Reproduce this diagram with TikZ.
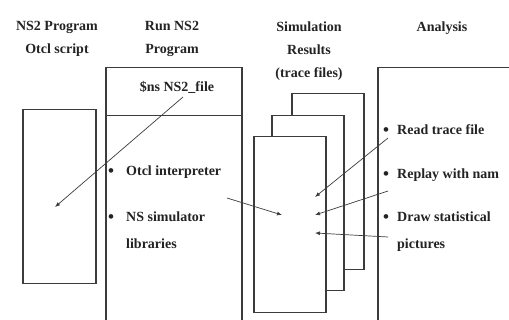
\documentclass[tikz,border=0pt]{standalone}
\usepackage{fontspec}
\setmainfont{Liberation Serif}
\usetikzlibrary{arrows.meta, positioning}
\definecolor{inkline}{RGB}{60,60,60}
\definecolor{inktext}{RGB}{35,35,35}
\newcommand{\bulletmark}[1]{\makebox[#1][l]{\raisebox{-0.8pt}{\fontsize{17}{17}\selectfont\textbullet}}}

\begin{document}
\begin{tikzpicture}[
    x=1pt, y=-1pt,
    >={Latex[length=5pt, width=4pt]},
    box/.style={draw=inkline, line width=1.5pt, fill=white, anchor=north west, inner sep=0pt},
    head/.style={font=\fontsize{14}{23}\selectfont\bfseries, text=inktext, align=center, inner sep=0pt},
    entry/.style={font=\fontsize{14}{26.5}\selectfont\bfseries, text=inktext, align=left, anchor=west, inner sep=0pt},
    flow/.style={->, line width=0.7pt, inkline},
  ]
  \useasboundingbox (0,0) rectangle (509,320);
  \clip (0,0) rectangle (509,320);

  % Boxes
  \node[box, minimum width=73pt, minimum height=174pt] (script) at (22,109) {};
  \node[box, minimum width=136pt, minimum height=48pt] (runtop) at (105,67) {};
  \node[box, minimum width=136pt, minimum height=230pt] (runlow) at (105,115) {};
  \node[box, minimum width=72pt, minimum height=176pt] (traceback) at (291,93) {};
  \node[box, minimum width=72pt, minimum height=175pt] (tracemid) at (271,115) {};
  \node[box, minimum width=72pt, minimum height=176pt] (tracefront) at (253,136) {};
  \node[box, minimum width=170pt, minimum height=280pt] (analysis) at (377,67) {};

  % Titles
  \node[head] (progtitle) at (57,38.5) {NS2 Program\\Otcl script};
  \node[head] (runtitle) at (172,38.5) {Run NS2\\Program};
  \node[head] (simtitle) at (309,51) {Simulation\\Results\\(trace files)};
  \node[head] (antitle) at (442,28) {Analysis};
  \node[head] (nsfile) at (177,87) {\$ns NS2\_file};

  % Bullet entries
  \node[entry] (otcl) at (108,172) {\bulletmark{18pt}Otcl interpreter};
  \node[entry] (nslib) at (108,230) {\bulletmark{18pt}NS simulator\\\hspace*{18pt}libraries};
  \node[entry] (readtr) at (383,130) {\bulletmark{14pt}Read trace file};
  \node[entry] (replay) at (383,175) {\bulletmark{14pt}Replay with nam};
  \node[entry] (drawst) at (383,231.5) {\bulletmark{14pt}Draw statistical\\\hspace*{14pt}pictures};

  % Arrow ends
  \coordinate (nsout) at (183,97);
  \coordinate (scriptpt) at (55,207);
  \coordinate (runout) at (227,198);
  \coordinate (frontpt) at (282,215);
  \coordinate (readout) at (388,138);
  \coordinate (replayout) at (388,191);
  \coordinate (drawout) at (388,237);
  \coordinate (tracein1) at (315,197);
  \coordinate (tracein2) at (315,215);
  \coordinate (tracein3) at (315,233);

  \draw[flow] (nsout) -- (scriptpt);
  \draw[flow] (runout) -- (frontpt);
  \draw[flow] (readout) -- (tracein1);
  \draw[flow] (replayout) -- (tracein2);
  \draw[flow] (drawout) -- (tracein3);

\end{tikzpicture}
\end{document}
